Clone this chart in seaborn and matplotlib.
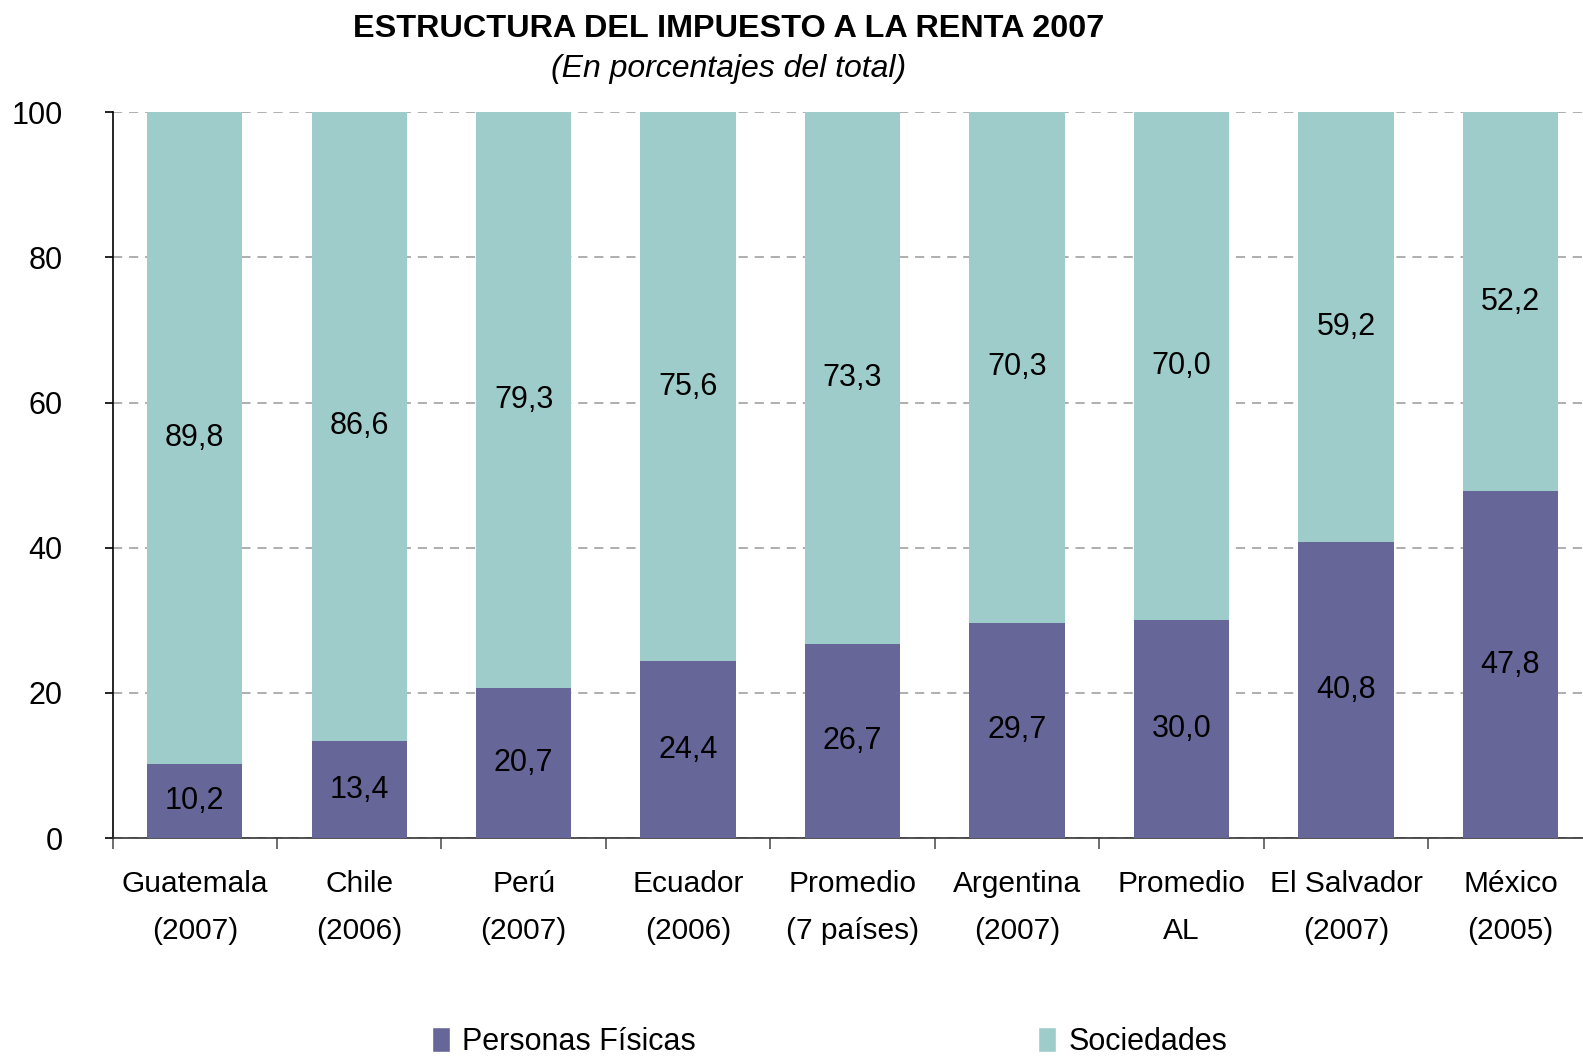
import matplotlib
matplotlib.use("Agg")
import matplotlib.pyplot as plt
import seaborn as sns
import numpy as np
import pandas as pd
from matplotlib.patches import Patch

# --- datos ---
paises = ["Guatemala\n(2007)", "Chile\n(2006)", "Perú\n(2007)", "Ecuador\n(2006)",
          "Promedio\n(7 países)", "Argentina\n(2007)", "Promedio\nAL",
          "El Salvador\n(2007)", "México\n(2005)"]
personas_fisicas = [10.2, 13.4, 20.7, 24.4, 26.7, 29.7, 30.0, 40.8, 47.8]
sociedades = [89.8, 86.6, 79.3, 75.6, 73.3, 70.3, 70.0, 59.2, 52.2]
y_ticks = [0, 20, 40, 60, 80, 100]

col_pf = "#666699"
col_soc = "#9DCCCB"

df = pd.DataFrame({"pais": paises, "pf": personas_fisicas, "soc": sociedades})
df["total"] = df["pf"] + df["soc"]

sns.set_theme(style="white")
plt.rcParams["font.family"] = ["Liberation Sans", "DejaVu Sans"]
plt.rcParams["text.color"] = "black"
plt.rcParams["xtick.color"] = "black"
plt.rcParams["ytick.color"] = "black"

fig = plt.figure(figsize=(15.83, 10.57), dpi=100)
ax = fig.add_axes([0.0711, 0.207, 0.935, 0.687])

# barras apiladas: total (sociedades) detrás, personas físicas delante
sns.barplot(data=df, x="pais", y="total", color=col_soc, width=0.58,
            saturation=1, linewidth=0, ax=ax, zorder=2)
sns.barplot(data=df, x="pais", y="pf", color=col_pf, width=0.58,
            saturation=1, linewidth=0, ax=ax, zorder=3)

for i, (pf, soc) in enumerate(zip(df["pf"], df["soc"])):
    ax.text(i, pf / 2, f"{pf:.1f}".replace(".", ","), ha="center", va="center",
            fontsize=22, color="black", zorder=4)
    ax.text(i, pf + soc / 2, f"{soc:.1f}".replace(".", ","), ha="center", va="center",
            fontsize=22, color="black", zorder=4)

ax.set_ylim(0, 100)
ax.set_xlim(-0.5, len(paises) - 0.5)
ax.set_yticks(y_ticks)
ax.set_yticklabels([str(v) for v in y_ticks], fontsize=22)
ax.yaxis.grid(True, linestyle=(0, (6, 4.5)), color="#999999", linewidth=1.1, zorder=1)
ax.set_axisbelow(True)

# etiquetas y marcas del eje x
ax.set_xticks(range(len(paises)))
ax.set_xticklabels(paises, fontsize=21.5, linespacing=1.85)
ax.set_xticks(np.arange(-0.5, len(paises), 1), minor=True)
ax.tick_params(axis="x", which="major", length=0, pad=23, bottom=True)
ax.tick_params(axis="x", which="minor", length=8, width=1.2, color="#555555",
               direction="out", bottom=True)
ax.tick_params(axis="y", length=6, width=1.2, color="black", direction="out",
               left=True, pad=30)

ax.set_xlabel("")
ax.set_ylabel("")
for s in ["top", "right"]:
    ax.spines[s].set_visible(False)
ax.spines["left"].set_color("black")
ax.spines["left"].set_linewidth(1.2)
ax.spines["bottom"].set_color("#333333")
ax.spines["bottom"].set_linewidth(1.2)

fig.text(0.46, 0.973, "ESTRUCTURA DEL IMPUESTO A LA RENTA 2007", ha="center", va="center",
         fontsize=23.3, fontweight="bold")
fig.text(0.46, 0.935, "(En porcentajes del total)", ha="center", va="center",
         fontsize=23, style="italic")

handles = [Patch(facecolor=col_pf, label="Personas Físicas"),
           Patch(facecolor=col_soc, label="Sociedades")]
fig.legend(handles=handles, loc="center", bbox_to_anchor=(0.524, 0.014), ncol=2,
           frameon=False, fontsize=22, handlelength=0.6, handleheight=0.9,
           handletextpad=0.4, columnspacing=11.2)

fig.savefig("out.png", dpi=100)
